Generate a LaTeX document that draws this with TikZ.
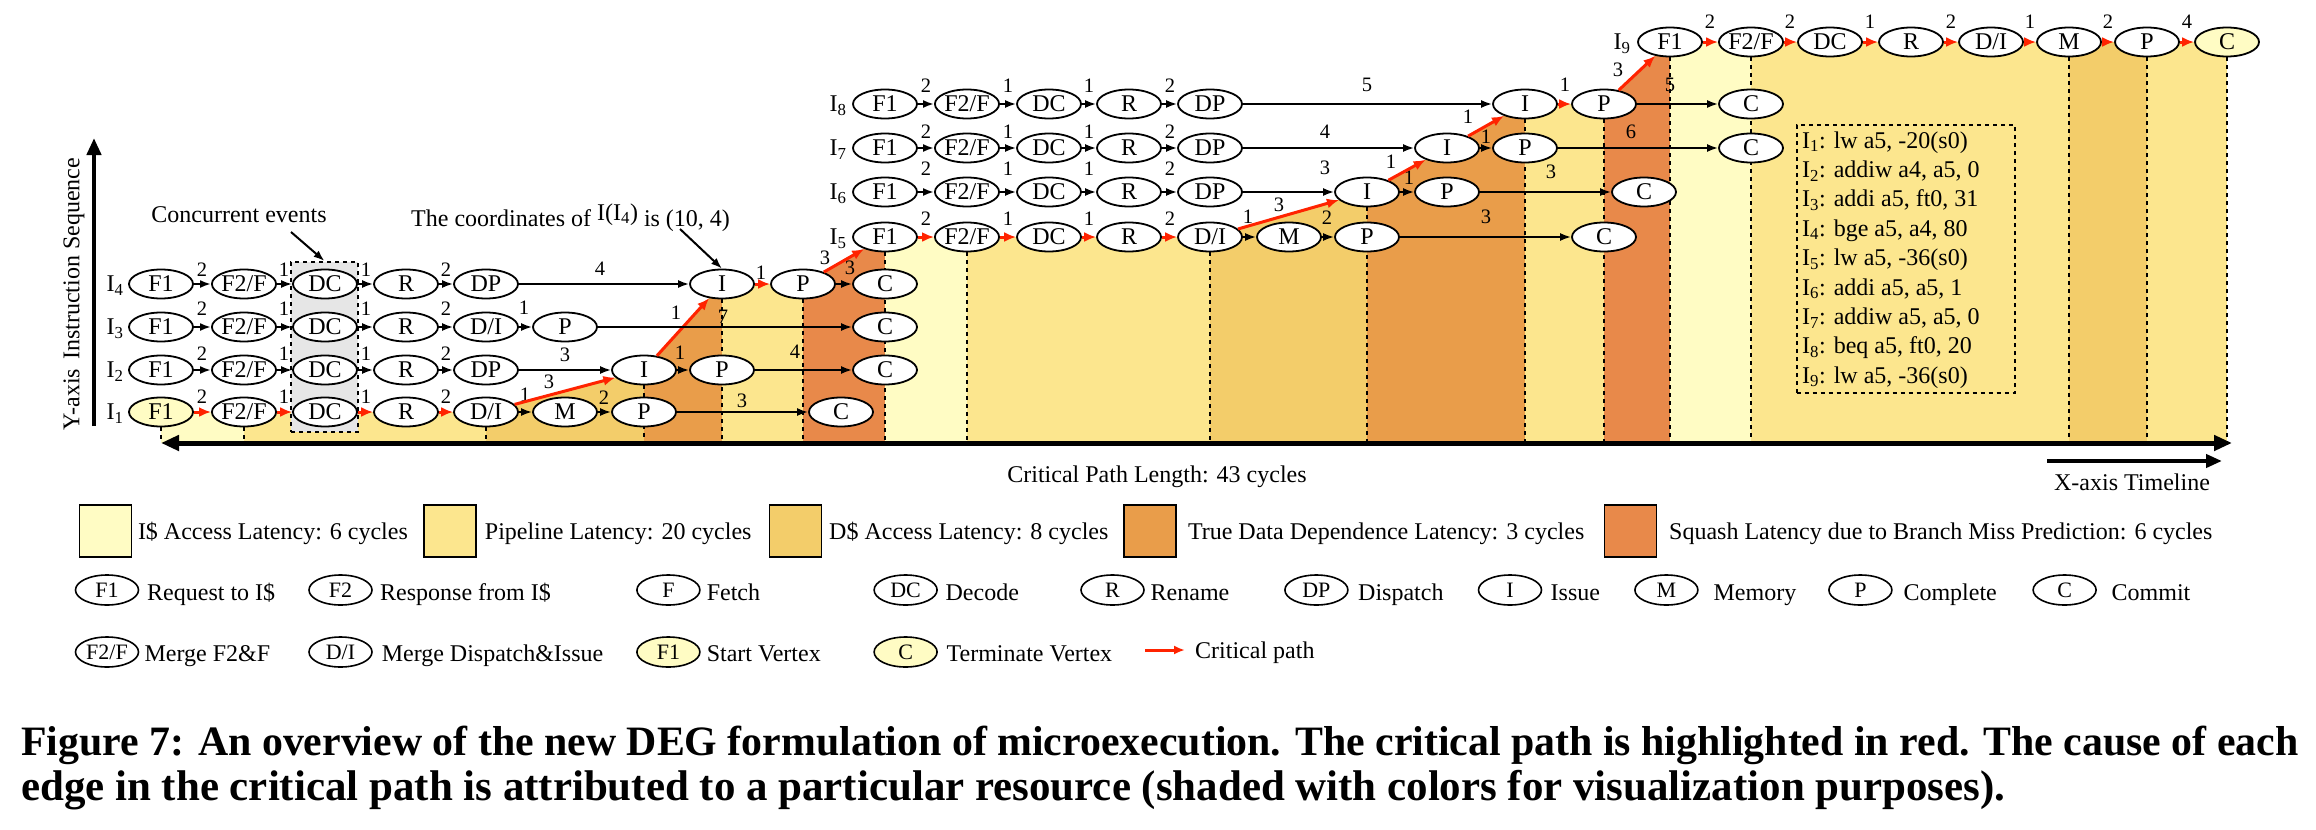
\documentclass[tikz,border=0pt]{standalone}
\usepackage{fontspec}
\setmainfont{Liberation Serif}
\usepackage{graphicx}
\usetikzlibrary{shapes.geometric,arrows.meta}
\pgfdeclarelayer{bg}
\pgfsetlayers{bg,main}
\definecolor{cI}{RGB}{255,252,196}
\definecolor{cP}{RGB}{252,230,142}
\definecolor{cD}{RGB}{243,205,106}
\definecolor{cT}{RGB}{233,157,74}
\definecolor{cS}{RGB}{232,137,74}
\definecolor{cR}{RGB}{255,35,0}
\definecolor{cG}{RGB}{230,230,230}
\tikzset{
 ev/.style={ellipse, draw, line width=1.8pt, minimum width=64pt, minimum height=29pt, inner sep=0pt, fill=white, font=\fontsize{24}{24}\selectfont},
 lev/.style={ellipse, draw, line width=1.6pt, minimum width=63pt, minimum height=30pt, inner sep=0pt, fill=white, font=\fontsize{22}{22}\selectfont},
 ed/.style={line width=2pt, -{Latex[length=11pt,width=8pt]}},
 cr/.style={draw=cR, line width=3pt, -{Latex[length=12pt,width=10pt]}},
 lb/.style={inner sep=0pt, font=\fontsize{20.5}{20.5}\selectfont},
 tx/.style={inner sep=0pt, font=\fontsize{24}{24}\selectfont},
 sw/.style={draw, line width=1.6pt, minimum size=52pt, inner sep=0pt},
 dl/.style={line width=2pt, dash pattern=on 4pt off 4pt},
}
\begin{document}
\begin{tikzpicture}[x=1pt,y=-1pt]
\useasboundingbox (0,0) rectangle (2316,830);
\coordinate (ax) at (0,443);
% ---------------- nodes ----------------
% I1
\node[ev,fill=cI] (r1f1) at (161,412) {F1};
\node[ev] (r1f2) at (244,412) {F2/F};
\node[ev] (r1dc) at (325,412) {DC};
\node[ev] (r1r) at (406,412) {R};
\node[ev] (r1di) at (486,412) {D/I};
\node[ev] (r1m) at (565,412) {M};
\node[ev] (r1p) at (644,412) {P};
\node[ev] (r1c) at (841,412) {C};
% I2
\node[ev] (r2f1) at (161,370) {F1};
\node[ev] (r2f2) at (244,370) {F2/F};
\node[ev] (r2dc) at (325,370) {DC};
\node[ev] (r2r) at (406,370) {R};
\node[ev] (r2dp) at (486,370) {DP};
\node[ev] (r2i) at (644,370) {I};
\node[ev] (r2p) at (722,370) {P};
\node[ev] (r2c) at (885,370) {C};
% I3
\node[ev] (r3f1) at (161,327) {F1};
\node[ev] (r3f2) at (244,327) {F2/F};
\node[ev] (r3dc) at (325,327) {DC};
\node[ev] (r3r) at (406,327) {R};
\node[ev] (r3di) at (486,327) {D/I};
\node[ev] (r3p) at (565,327) {P};
\node[ev] (r3c) at (885,327) {C};
% I4
\node[ev] (r4f1) at (161,284) {F1};
\node[ev] (r4f2) at (244,284) {F2/F};
\node[ev] (r4dc) at (325,284) {DC};
\node[ev] (r4r) at (406,284) {R};
\node[ev] (r4dp) at (486,284) {DP};
\node[ev] (r4i) at (722,284) {I};
\node[ev] (r4p) at (803,284) {P};
\node[ev] (r4c) at (885,284) {C};
% I5
\node[ev] (r5f1) at (885,237) {F1};
\node[ev] (r5f2) at (967,237) {F2/F};
\node[ev] (r5dc) at (1049,237) {DC};
\node[ev] (r5r) at (1129,237) {R};
\node[ev] (r5di) at (1210,237) {D/I};
\node[ev] (r5m) at (1289,237) {M};
\node[ev] (r5p) at (1367,237) {P};
\node[ev] (r5c) at (1604,237) {C};
% I6
\node[ev] (r6f1) at (885,192) {F1};
\node[ev] (r6f2) at (967,192) {F2/F};
\node[ev] (r6dc) at (1049,192) {DC};
\node[ev] (r6r) at (1129,192) {R};
\node[ev] (r6dp) at (1210,192) {DP};
\node[ev] (r6i) at (1367,192) {I};
\node[ev] (r6p) at (1447,192) {P};
\node[ev] (r6c) at (1644,192) {C};
% I7
\node[ev] (r7f1) at (885,148) {F1};
\node[ev] (r7f2) at (967,148) {F2/F};
\node[ev] (r7dc) at (1049,148) {DC};
\node[ev] (r7r) at (1129,148) {R};
\node[ev] (r7dp) at (1210,148) {DP};
\node[ev] (r7i) at (1447,148) {I};
\node[ev] (r7p) at (1525,148) {P};
\node[ev] (r7c) at (1751,148) {C};
% I8
\node[ev] (r8f1) at (885,104) {F1};
\node[ev] (r8f2) at (967,104) {F2/F};
\node[ev] (r8dc) at (1049,104) {DC};
\node[ev] (r8r) at (1129,104) {R};
\node[ev] (r8dp) at (1210,104) {DP};
\node[ev] (r8i) at (1525,104) {I};
\node[ev] (r8p) at (1604,104) {P};
\node[ev] (r8c) at (1751,104) {C};
% I9
\node[ev] (r9f1) at (1670,42) {F1};
\node[ev] (r9f2) at (1751,42) {F2/F};
\node[ev] (r9dc) at (1830,42) {DC};
\node[ev] (r9r) at (1911,42) {R};
\node[ev] (r9di) at (1991,42) {D/I};
\node[ev] (r9m) at (2069,42) {M};
\node[ev] (r9p) at (2147,42) {P};
\node[ev,fill=cI] (r9c) at (2227,42) {C};
% row labels
\node[tx] (l1) at (115,414) {I\textsubscript{1}};
\node[tx] (l2) at (115,372) {I\textsubscript{2}};
\node[tx] (l3) at (115,329) {I\textsubscript{3}};
\node[tx] (l4) at (115,286) {I\textsubscript{4}};
\node[tx] (l5) at (838,239) {I\textsubscript{5}};
\node[tx] (l6) at (838,194) {I\textsubscript{6}};
\node[tx] (l7) at (838,150) {I\textsubscript{7}};
\node[tx] (l8) at (838,106) {I\textsubscript{8}};
\node[tx] (l9) at (1622,44) {I\textsubscript{9}};
% ---------------- edges ----------------
% I1
\draw[cr] (r1f1) -- (r1f2) node[lb] at (202,397) {2};
\draw[cr] (r1f2) -- (r1dc) node[lb] at (284,397) {1};
\draw[cr] (r1dc) -- (r1r) node[lb] at (366,397) {1};
\draw[cr] (r1r) -- (r1di) node[lb] at (446,397) {2};
\draw[ed] (r1di) -- (r1m) node[lb] at (525,395) {1};
\draw[ed] (r1m) -- (r1p) node[lb] at (604,398) {2};
\draw[ed] (r1p) -- (r1c) node[lb] at (742,401) {3};
\draw[cr] (r1di) -- (r2i) node[lb] at (549,382) {3};
% I2
\draw[ed] (r2f1) -- (r2f2) node[lb] at (202,354) {2};
\draw[ed] (r2f2) -- (r2dc) node[lb] at (284,354) {1};
\draw[ed] (r2dc) -- (r2r) node[lb] at (366,354) {1};
\draw[ed] (r2r) -- (r2dp) node[lb] at (446,354) {2};
\draw[ed] (r2dp) -- (r2i) node[lb] at (565,355) {3};
\draw[ed] (r2i) -- (r2p) node[lb] at (680,353) {1};
\draw[ed] (r2p) -- (r2c) node[lb] at (795,352) {4};
\draw[cr] (r2i) -- (r4i) node[lb] at (676,313) {1};
% I3
\draw[ed] (r3f1) -- (r3f2) node[lb] at (202,309) {2};
\draw[ed] (r3f2) -- (r3dc) node[lb] at (284,309) {1};
\draw[ed] (r3dc) -- (r3r) node[lb] at (366,309) {1};
\draw[ed] (r3r) -- (r3di) node[lb] at (446,309) {2};
\draw[ed] (r3di) -- (r3p) node[lb] at (524,308) {1};
\draw[ed] (r3p) -- (r3c) node[lb] at (723,317) {7};
% I4
\draw[ed] (r4f1) -- (r4f2) node[lb] at (202,270) {2};
\draw[ed] (r4f2) -- (r4dc) node[lb] at (284,270) {1};
\draw[ed] (r4dc) -- (r4r) node[lb] at (366,270) {1};
\draw[ed] (r4r) -- (r4dp) node[lb] at (446,270) {2};
\draw[ed] (r4dp) -- (r4i) node[lb] at (600,269) {4};
\draw[cr] (r4i) -- (r4p) node[lb] at (761,273) {1};
\draw[ed] (r4p) -- (r4c) node[lb] at (850,268) {3};
\draw[cr] (r4p) -- (r5f1) node[lb] at (825,258) {3};
% I5
\draw[cr] (r5f1) -- (r5f2) node[lb] at (926,219) {2};
\draw[cr] (r5f2) -- (r5dc) node[lb] at (1008,219) {1};
\draw[cr] (r5dc) -- (r5r) node[lb] at (1089,219) {1};
\draw[cr] (r5r) -- (r5di) node[lb] at (1170,219) {2};
\draw[ed] (r5di) -- (r5m) node[lb] at (1248,217) {1};
\draw[ed] (r5m) -- (r5p) node[lb] at (1327,218) {2};
\draw[ed] (r5p) -- (r5c) node[lb] at (1486,217) {3};
\draw[cr] (r5di) -- (r6i) node[lb] at (1279,205) {3};
% I6
\draw[ed] (r6f1) -- (r6f2) node[lb] at (926,169) {2};
\draw[ed] (r6f2) -- (r6dc) node[lb] at (1008,169) {1};
\draw[ed] (r6dc) -- (r6r) node[lb] at (1089,169) {1};
\draw[ed] (r6r) -- (r6dp) node[lb] at (1170,169) {2};
\draw[ed] (r6dp) -- (r6i) node[lb] at (1325,168) {3};
\draw[ed] (r6i) -- (r6p) node[lb] at (1409,178) {1};
\draw[ed] (r6p) -- (r6c) node[lb] at (1551,172) {3};
\draw[cr] (r6i) -- (r7i) node[lb] at (1391,162) {1};
% I7
\draw[ed] (r7f1) -- (r7f2) node[lb] at (926,132) {2};
\draw[ed] (r7f2) -- (r7dc) node[lb] at (1008,132) {1};
\draw[ed] (r7dc) -- (r7r) node[lb] at (1089,132) {1};
\draw[ed] (r7r) -- (r7dp) node[lb] at (1170,132) {2};
\draw[ed] (r7dp) -- (r7i) node[lb] at (1325,132) {4};
\draw[ed] (r7i) -- (r7p) node[lb] at (1486,137) {1};
\draw[ed] (r7p) -- (r7c) node[lb] at (1631,132) {6};
\draw[cr] (r7i) -- (r8i) node[lb] at (1468,117) {1};
% I8
\draw[ed] (r8f1) -- (r8f2) node[lb] at (926,86) {2};
\draw[ed] (r8f2) -- (r8dc) node[lb] at (1008,86) {1};
\draw[ed] (r8dc) -- (r8r) node[lb] at (1089,86) {1};
\draw[ed] (r8r) -- (r8dp) node[lb] at (1170,86) {2};
\draw[ed] (r8dp) -- (r8i) node[lb] at (1367,85) {5};
\draw[cr] (r8i) -- (r8p) node[lb] at (1565,85) {1};
\draw[ed] (r8p) -- (r8c) node[lb] at (1670,85) {5};
\draw[cr] (r8p) -- (r9f1) node[lb] at (1618,70) {3};
% I9
\draw[cr] (r9f1) -- (r9f2) node[lb] at (1710,22) {2};
\draw[cr] (r9f2) -- (r9dc) node[lb] at (1790,22) {2};
\draw[cr] (r9dc) -- (r9r) node[lb] at (1870,22) {1};
\draw[cr] (r9r) -- (r9di) node[lb] at (1951,22) {2};
\draw[cr] (r9di) -- (r9m) node[lb] at (2030,22) {1};
\draw[cr] (r9m) -- (r9p) node[lb] at (2108,22) {2};
\draw[cr] (r9p) -- (r9c) node[lb] at (2187,22) {4};
% ---------------- background ----------------
\begin{pgfonlayer}{bg}
\fill[cI] (r1f1.center) -- (r1f2.center) |- (r1f1.center |- ax) -- cycle;
\fill[cP] (r1f2.center) -- (r1di.center) |- (r1f2.center |- ax) -- cycle;
\fill[cD] (r1di.center) -- (r2i.center) |- (r1di.center |- ax) -- cycle;
\fill[cT] (r2i.center) -- (r4i.center) |- (r2i.center |- ax) -- cycle;
\fill[cP] (r4i.center) -- (r4p.center) |- (r4i.center |- ax) -- cycle;
\fill[cS] (r4p.center) -- (r5f1.center) |- (r4p.center |- ax) -- cycle;
\fill[cI] (r5f1.center) -- (r5f2.center) |- (r5f1.center |- ax) -- cycle;
\fill[cP] (r5f2.center) -- (r5di.center) |- (r5f2.center |- ax) -- cycle;
\fill[cD] (r5di.center) -- (r6i.center) |- (r5di.center |- ax) -- cycle;
\fill[cT] (r6i.center) -- (r7i.center) -- (r8i.center) |- (r6i.center |- ax) -- cycle;
\fill[cP] (r8i.center) -- (r8p.center) |- (r8i.center |- ax) -- cycle;
\fill[cS] (r8p.center) -- (r9f1.center) |- (r8p.center |- ax) -- cycle;
\fill[cI] (r9f1.center) -- (r9f2.center) |- (r9f1.center |- ax) -- cycle;
\fill[cP] (r9f2.center) -- (r9m.center) |- (r9f2.center |- ax) -- cycle;
\fill[cD] (r9m.center) -- (r9p.center) |- (r9m.center |- ax) -- cycle;
\fill[cP] (r9p.center) -- (r9c.center) |- (r9p.center |- ax) -- cycle;
\foreach \n in {r1f1,r1f2,r1di,r2i,r4i,r4p,r5f1,r5f2,r5di,r6i,r8i,r8p,r9f1,r9f2,r9m,r9p,r9c}
  \draw[dl] (\n.south) -- (\n.south |- ax);
\node[draw, dl, fill=cG, minimum width=67pt, minimum height=170pt, inner sep=0pt] (cbox) at (324.5,347) {};
\end{pgfonlayer}
% ---------------- axes ----------------
\coordinate (axL) at (161,443);
\coordinate (axR) at (2232,443);
\draw[line width=5pt, {Triangle[length=18pt,width=15pt]}-{Triangle[length=18pt,width=15pt]}] (axL) -- (axR);
\coordinate (yb) at (94,426);
\coordinate (yt) at (94,138);
\draw[line width=4.5pt, -{Triangle[length=17pt,width=14pt]}] (yb) -- (yt);
\node[tx, rotate=90] (ylab) at (74,294) {Y-axis\hspace{9pt}Instruction Sequence};
\node[tx] (cpl) at (1157,477) {Critical Path Length: 43 cycles};
\coordinate (xa) at (2047,461);
\coordinate (xb) at (2222,461);
\draw[line width=4pt, -{Triangle[length=16pt,width=13pt]}] (xa) -- (xb);
\node[tx] (xlab) at (2132,482) {X-axis Timeline};
% ---------------- annotations ----------------
\node[tx] (conc) at (239,215) {Concurrent events};
\coordinate (concA) at (291,232);
\draw[line width=2pt, -{Latex[length=11pt,width=8pt]}] (concA) -- (cbox.north);
\node[tx, anchor=base west] (coordtxt) at (411,226) {The coordinates of \raisebox{6pt}{I(I\textsubscript{4})} is (10, 4)};
\coordinate (coordA) at (680,229);
\draw[line width=2pt, -{Latex[length=11pt,width=8pt]}] (coordA) -- (r4i.north);
% instruction box
\node[draw, dl, minimum width=218pt, minimum height=268pt, inner sep=0pt] (ibox) at (1905.5,259) {};
\node[tx, anchor=base west] at (1802,148) {I\textsubscript{1}: lw a5, -20(s0)};
\node[tx, anchor=base west] at (1802,177.4) {I\textsubscript{2}: addiw a4, a5, 0};
\node[tx, anchor=base west] at (1802,206.8) {I\textsubscript{3}: addi a5, ft0, 31};
\node[tx, anchor=base west] at (1802,236.2) {I\textsubscript{4}: bge a5, a4, 80};
\node[tx, anchor=base west] at (1802,265.6) {I\textsubscript{5}: lw a5, -36(s0)};
\node[tx, anchor=base west] at (1802,295) {I\textsubscript{6}: addi a5, a5, 1};
\node[tx, anchor=base west] at (1802,324.4) {I\textsubscript{7}: addiw a5, a5, 0};
\node[tx, anchor=base west] at (1802,353.8) {I\textsubscript{8}: beq a5, ft0, 20};
\node[tx, anchor=base west] at (1802,383.2) {I\textsubscript{9}: lw a5, -36(s0)};
% ---------------- legend ----------------
\node[sw, fill=cI] (s1) at (105.3,531) {};
\node[tx, anchor=base west] at (137.8,539) {I\$ Access Latency: 6 cycles};
\node[sw, fill=cP] (s2) at (450.2,531) {};
\node[tx, anchor=base west] at (484.7,539) {Pipeline Latency: 20 cycles};
\node[sw, fill=cD] (s3) at (795.4,531) {};
\node[tx, anchor=base west] at (829,539) {D\$ Access Latency: 8 cycles};
\node[sw, fill=cT] (s4) at (1149.7,531) {};
\node[tx, anchor=base west] at (1187.8,539) {True Data Dependence Latency: 3 cycles};
\node[sw, fill=cS] (s5) at (1630.5,531) {};
\node[tx, anchor=base west] at (1669,539) {Squash Latency due to Branch Miss Prediction: 6 cycles};
% row 2
\node[lev] (g1) at (107,590) {F1};
\node[tx, anchor=base west] at (147,600) {Request to I\$};
\node[lev] (g2) at (340.5,590) {F2};
\node[tx, anchor=base west] at (380,600) {Response from I\$};
\node[lev] (g3) at (668.4,590) {F};
\node[tx, anchor=base west] at (706.6,600) {Fetch};
\node[lev] (g4) at (905.6,590) {DC};
\node[tx, anchor=base west] at (945.4,600) {Decode};
\node[lev] (g5) at (1112.5,590) {R};
\node[tx, anchor=base west] at (1150.5,600) {Rename};
\node[lev] (g6) at (1316.4,590) {DP};
\node[tx, anchor=base west] at (1358,600) {Dispatch};
\node[lev] (g7) at (1510,590) {I};
\node[tx, anchor=base west] at (1550.5,600) {Issue};
\node[lev] (g8) at (1666.4,590) {M};
\node[tx, anchor=base west] at (1713.4,600) {Memory};
\node[lev] (g9) at (1860.4,590) {P};
\node[tx, anchor=base west] at (1903.3,600) {Complete};
\node[lev] (g10) at (2064.6,590) {C};
\node[tx, anchor=base west] at (2111.5,600) {Commit};
% row 3
\node[lev] (h1) at (107,652) {F2/F};
\node[tx, anchor=base west] at (144.4,661) {Merge F2\&F};
\node[lev] (h2) at (340.5,652) {D/I};
\node[tx, anchor=base west] at (381.6,661) {Merge Dispatch\&Issue};
\node[lev, fill=cI] (h3) at (668.4,652) {F1};
\node[tx, anchor=base west] at (706.6,661) {Start Vertex};
\node[lev, fill=cI] (h4) at (905.6,652) {C};
\node[tx, anchor=base west] at (946.4,661) {Terminate Vertex};
\coordinate (ra) at (1145,650);
\coordinate (rb) at (1185,650);
\draw[draw=cR, line width=3pt, -{Latex[length=11pt,width=9pt]}] (ra) -- (rb);
\node[tx, anchor=base west] at (1195,658) {Critical path};
% ---------------- caption ----------------
\node[inner sep=0pt, anchor=west] (cap1) at (21,745) {\resizebox{2277pt}{!}{\fontsize{38}{38}\selectfont\bfseries Figure 7: An overview of the new DEG formulation of microexecution. The critical path is highlighted in red. The cause of each}};
\node[inner sep=0pt, anchor=west] (cap2) at (21,790) {\resizebox{1984pt}{!}{\fontsize{38}{38}\selectfont\bfseries edge in the critical path is attributed to a particular resource (shaded with colors for visualization purposes).}};
\end{tikzpicture}
\end{document}
